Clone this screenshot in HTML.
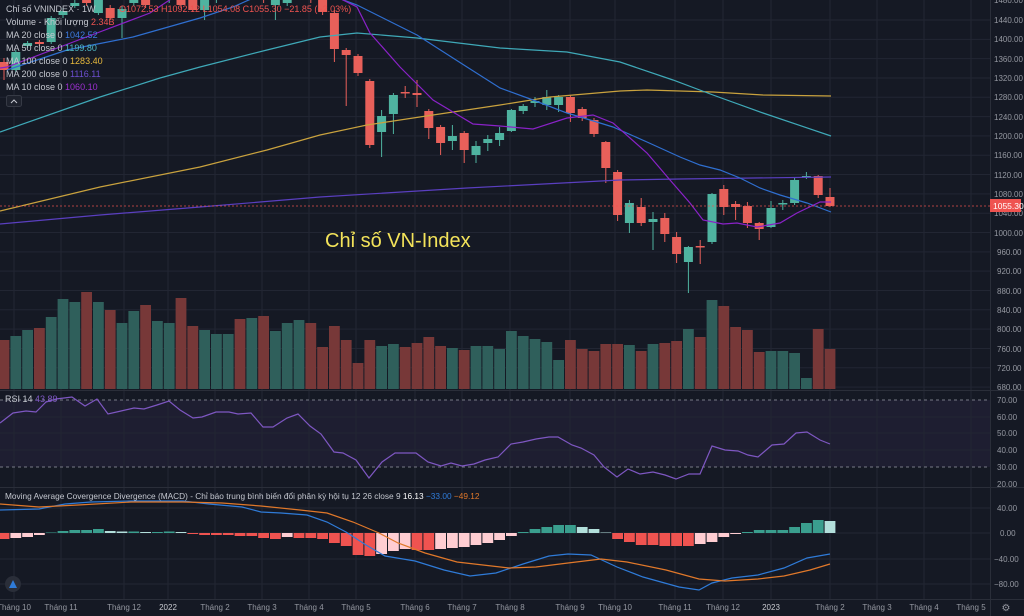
<!DOCTYPE html>
<html><head><meta charset="utf-8">
<style>
html,body{margin:0;padding:0;background:#151924;}
svg{display:block;}
text{font-family:"Liberation Sans","DejaVu Sans",sans-serif;}
</style></head><body>
<svg id="s" width="1024" height="616" xmlns="http://www.w3.org/2000/svg">
<rect width="1024" height="616" fill="#151924"/>
<rect x="0" y="400" width="990" height="67" fill="#7e57c2" fill-opacity="0.09"/>
<g id="grid" stroke="#222633" stroke-width="1"></g>
<g id="shapes"></g>
<polyline fill="none" stroke="#5a3fc0" stroke-width="1.2" points="0,224 100,215 200,207 320,197 467,188 620,180 680,179 831,177"/>
<polyline fill="none" stroke="#c9a23e" stroke-width="1.2" points="0,211 100,187 200,167 267,150 320,135 367,125 433,115 500,105 550,97 620,91 647,90 713,92 763,95 831,96"/>
<polyline fill="none" stroke="#3fa9b8" stroke-width="1.2" points="0,132 100,97 160,78 200,67 267,50 320,37 357,33 417,38 500,48 567,52 620,62 673,80 713,95 763,113 831,136"/>
<polyline fill="none" stroke="#2f6fd0" stroke-width="1.2" points="7,70 67,50 133,37 200,18 233,7 260,-5 330,-5 357,5 417,35 467,67 500,88 533,100 567,113 600,123 613,127 647,142 680,157 700,165 720,170 740,178 760,188 780,195 807,203 831,212"/>
<polyline fill="none" stroke="#8a22c8" stroke-width="1.2" points="0,68 7,67 97,33 150,13 177,-5 333,-5 357,7 370,33 400,67 433,100 473,124 500,126 533,129 567,118 593,115 613,123 647,153 670,180 690,203 703,220 723,224 737,223 757,227 780,223 797,213 820,202 831,202"/>
<line x1="0" y1="206" x2="990" y2="206" stroke="#ef5350" stroke-width="1" stroke-dasharray="2,2" opacity="0.7"/>
<line x1="0" y1="400" x2="990" y2="400" stroke="#787b86" stroke-dasharray="3,3" stroke-width="1"/>
<line x1="0" y1="467" x2="990" y2="467" stroke="#787b86" stroke-dasharray="3,3" stroke-width="1"/>
<polyline fill="none" stroke="#7e57c2" stroke-width="1.2" points="0,423 13,413 26,411 36,412 46,402 56,399 72,397 85,406 97,399 108,414 121,411 134,408 144,409 157,405 169,401 180,410 193,418 202,417 216,412 229,412 238,414 251,413 263,427 273,427 287,418 298,414 310,426 321,434 334,452 343,453 356,460 369,478 382,462 395,453 416,453 428,462 441,466 451,463 462,466 474,464 485,460 498,457 511,444 523,442 536,439 549,437 558,437 572,445 581,448 594,455 604,467 617,477 628,469 640,474 653,472 665,475 676,479 689,474 700,474 712,446 725,450 738,451 748,455 758,457 772,445 784,444 796,433 807,432 820,440 830,444"/>
<g id="hist"></g>
<polyline fill="none" stroke="#2f7bd8" stroke-width="1.2" points="0,510 39,509 65,504 91,502 131,501 183,501 209,504 242,507 261,512 281,513 307,515 327,522 346,532 366,545 385,556 415,561 444,570 470,576 496,573 523,564 549,556 568,554 591,555 617,567 643,577 679,587 699,590 712,583 732,578 758,575 784,568 807,558 830,554"/>
<polyline fill="none" stroke="#e0782a" stroke-width="1.2" points="0,504 39,507 78,505 131,502 183,502 222,503 261,506 300,510 327,513 353,522 379,533 398,543 425,553 457,562 509,568 536,567 568,563 601,559 627,562 666,570 699,579 725,581 758,579 784,576 810,570 830,564"/>
<line x1="0" y1="390.5" x2="1024" y2="390.5" stroke="#2a2e39"/>
<line x1="0" y1="487.5" x2="1024" y2="487.5" stroke="#2a2e39"/>
<line x1="0" y1="599.5" x2="1024" y2="599.5" stroke="#2a2e39"/>
<line x1="990.5" y1="0" x2="990.5" y2="616" stroke="#2a2e39"/>
<g font-size="8" fill="#9598a1">
<text x="994" y="3">1480.00</text><text x="994" y="23">1440.00</text><text x="994" y="42">1400.00</text><text x="994" y="62">1360.00</text><text x="994" y="81">1320.00</text><text x="994" y="100">1280.00</text><text x="994" y="120">1240.00</text><text x="994" y="139">1200.00</text><text x="994" y="158">1160.00</text><text x="994" y="178">1120.00</text><text x="994" y="197">1080.00</text><text x="994" y="216">1040.00</text><text x="994" y="236">1000.00</text><text x="997" y="255">960.00</text><text x="997" y="274">920.00</text><text x="997" y="294">880.00</text><text x="997" y="313">840.00</text><text x="997" y="332">800.00</text><text x="997" y="352">760.00</text><text x="997" y="371">720.00</text><text x="997" y="390">680.00</text>
<text x="997" y="403">70.00</text><text x="997" y="420">60.00</text><text x="997" y="436">50.00</text><text x="997" y="453">40.00</text><text x="997" y="470">30.00</text><text x="997" y="487">20.00</text>
<text x="997" y="511">40.00</text><text x="1000" y="536">0.00</text><text x="994" y="562">−40.00</text><text x="994" y="587">−80.00</text>
</g>
<rect x="990" y="199" width="31" height="13" fill="#ef5350"/>
<text x="993" y="209" font-size="8.5" fill="#fff">1055.30</text>
<g font-size="8" fill="#9598a1" text-anchor="middle">
<text x="14" y="610">Tháng 10</text><text x="61" y="610">Tháng 11</text><text x="124" y="610">Tháng 12</text><text x="168" y="610" fill="#c8cad0">2022</text><text x="215" y="610">Tháng 2</text><text x="262" y="610">Tháng 3</text><text x="309" y="610">Tháng 4</text><text x="356" y="610">Tháng 5</text><text x="415" y="610">Tháng 6</text><text x="462" y="610">Tháng 7</text><text x="510" y="610">Tháng 8</text><text x="570" y="610">Tháng 9</text><text x="615" y="610">Tháng 10</text><text x="675" y="610">Tháng 11</text><text x="723" y="610">Tháng 12</text><text x="771" y="610" fill="#c8cad0">2023</text><text x="830" y="610">Tháng 2</text><text x="877" y="610">Tháng 3</text><text x="924" y="610">Tháng 4</text><text x="971" y="610">Tháng 5</text>
</g>
<text x="1006" y="611" font-size="10" fill="#9598a1" text-anchor="middle">⚙</text>
<g font-size="9" fill="#c4c7cf">
<text x="6" y="12">Chỉ số VNINDEX · 1W</text>
<text x="119" y="12" fill="#ef5350">O1072.53 H1092.12 L1054.08 C1055.30 −21.85 (−2.03%)</text>
<text x="6" y="25">Volume - Khối lượng <tspan fill="#ef5350">2.34B</tspan></text>
<text x="6" y="38">MA 20 close 0 <tspan fill="#3d7be0">1042.52</tspan></text>
<text x="6" y="51">MA 50 close 0 <tspan fill="#4fb8c4">1199.80</tspan></text>
<text x="6" y="64">MA 100 close 0 <tspan fill="#e8b93c">1283.40</tspan></text>
<text x="6" y="77">MA 200 close 0 <tspan fill="#6d4fd0">1116.11</tspan></text>
<text x="6" y="90">MA 10 close 0 <tspan fill="#9c2fd0">1060.10</tspan></text>
<text x="5" y="402">RSI 14 <tspan fill="#7e57c2">43.89</tspan></text>
<text x="5" y="499" font-size="8.3">Moving Average Covergence Divergence (MACD) - Chỉ báo trung bình biến đổi phân kỳ hội tụ 12 26 close 9 <tspan fill="#fff">16.13</tspan> <tspan fill="#2f7bd8">−33.00</tspan> <tspan fill="#e0782a">−49.12</tspan></text>
</g>
<rect x="6.5" y="95.5" width="15" height="11" rx="2" fill="#1e222d" stroke="#363a45"/>
<polyline points="11,103 14,100 17,103" fill="none" stroke="#c4c7cf" stroke-width="1"/>
<text x="325" y="247" font-size="20" fill="#f3e35a">Chỉ số VN-Index</text>
<circle cx="13" cy="584" r="8" fill="#2a2e39"/>
<polygon points="9,588 13,580 17,588" fill="#2f7bd8"/>
</svg>
<script>
var NS="http://www.w3.org/2000/svg";
function el(p,t,a){var e=document.createElementNS(NS,t);for(var k in a)e.setAttribute(k,a[k]);p.appendChild(e);return e;}
var g=document.getElementById('grid');
for(var y=20;y<390;y+=19.32)el(g,'line',{x1:0,x2:990,y1:y,y2:y});
[417,433,450].forEach(function(y){el(g,'line',{x1:0,x2:990,y1:y,y2:y});});
[508,533,559,584].forEach(function(y){el(g,'line',{x1:0,x2:990,y1:y,y2:y});});
[14,61,124,168,215,262,309,356,415,462,510,570,615,675,723,771,830,877,924,971].forEach(function(x){el(g,'line',{x1:x,x2:x,y1:0,y2:600});});
var X=function(i){return 830-11.8*(70-i);};
var C=[[62,70,58,80],[70,52,50,72],[46,43,41,48],[42,44,40,46],[42,18,16,44],[15,11,8,18],[6,3,0,8],[-2,3,-6,6],[13,0,-3,15],[8,18,5,20],[18,9,6,38],[3,-10,-12,6],[-5,5,-8,8],[-5,-15,-18,-2],[0,-10,-12,3],[-5,5,-8,8],[0,10,-2,12],[10,0,-2,20],[0,-8,-10,3],[-2,-10,-12,0],[-15,-5,-18,-2],[-2,-12,-14,0],[-10,0,-12,3],[5,-5,-7,20],[3,0,-2,6],[-2,-10,-12,0],[-15,0,-17,3],[0,12,-2,15],[13,49,10,62],[50,55,48,106],[56,73,54,76],[81,145,79,148],[132,116,110,157],[114,95,93,134],[92,93,86,98],[93,95,80,107],[111,128,109,139],[127,143,125,155],[141,136,125,150],[133,150,131,163],[155,146,141,163],[143,139,135,151],[140,133,127,146],[131,110,109,132],[111,106,104,114],[103,101,97,107],[105,97,90,110],[105,97,95,112],[97,113,95,122],[109,118,107,121],[120,134,118,137],[142,168,141,183],[172,215,170,221],[223,203,200,233],[207,223,198,226],[222,219,212,250],[218,234,213,242],[237,254,232,263],[262,247,246,293],[246,247,240,264],[242,194,193,244],[189,207,185,215],[204,207,201,220],[206,223,202,228],[223,229,222,240],[227,208,201,228],[204,203,200,210],[203,180,178,205],[177,176,172,179],[176,195,175,198],[197,206,188,207]];
var V=[340,336,330,328,317,299,302,292,302,310,323,311,305,321,323,298,326,330,334,334,319,318,316,331,323,320,323,347,326,340,363,340,346,344,347,343,337,346,348,350,346,346,349,331,336,339,342,360,340,349,351,344,344,345,351,344,343,341,329,337,300,306,327,330,352,351,351,353,378,329,349];
var VC="rggrgggrgr"+"ggrggrrggg"+"rgrgggrrrr"+"rrggrrrrgr"+"ggggggggrr"+"rrrgrgrrgr"+"grrrrggggr"+"r";
var sh=document.getElementById('shapes');
for(var i=0;i<71;i++){
 var x=X(i),up=VC[i]=='g';
 el(sh,'rect',{x:x-5.9+0.5,y:V[i],width:10.8,height:389-V[i],fill:up?'#2f5f5b':'#773838'});
}
for(var i=0;i<71;i++){
 var c=C[i],x=X(i),up=c[1]<c[0];
 var col=up?'#4fb3a0':'#e8605a';
 el(sh,'line',{x1:x,x2:x,y1:c[2],y2:c[3],stroke:col,'stroke-width':1});
 var t=Math.min(c[0],c[1]),h=Math.max(1.5,Math.abs(c[0]-c[1]));
 el(sh,'rect',{x:x-4.5,y:t,width:9,height:h,fill:col});
}
var H=[-6,-5,-4,-2,0.5,2,3,3,4,2,1.5,1.5,1,1,1.5,1,-1,-2,-2,-2,-3,-3,-5,-6,-4,-5,-5,-6,-10,-13,-22,-23,-21,-18,-16,-17,-17,-16,-15,-14,-12,-10,-7,-3,1,4,6,8,8,6,4,0.5,-6,-9,-12,-12,-13,-13,-13,-11,-9,-4,-1,1,3,3,3,6,10,13,12];
var hg=document.getElementById('hist');
for(var i=0;i<71;i++){
 var v=H[i],x=X(i),prev=i?H[i-1]:v,col;
 if(v>=0)col=(v>=prev)?'#3a9e8e':'#b2dfdb';else col=(v<=prev)?'#ef5350':'#ffcdd2';
 el(hg,'rect',{x:x-5.4,y:v>=0?533-v:533,width:10.8,height:Math.abs(v),fill:col});
}
</script>
</body></html>
